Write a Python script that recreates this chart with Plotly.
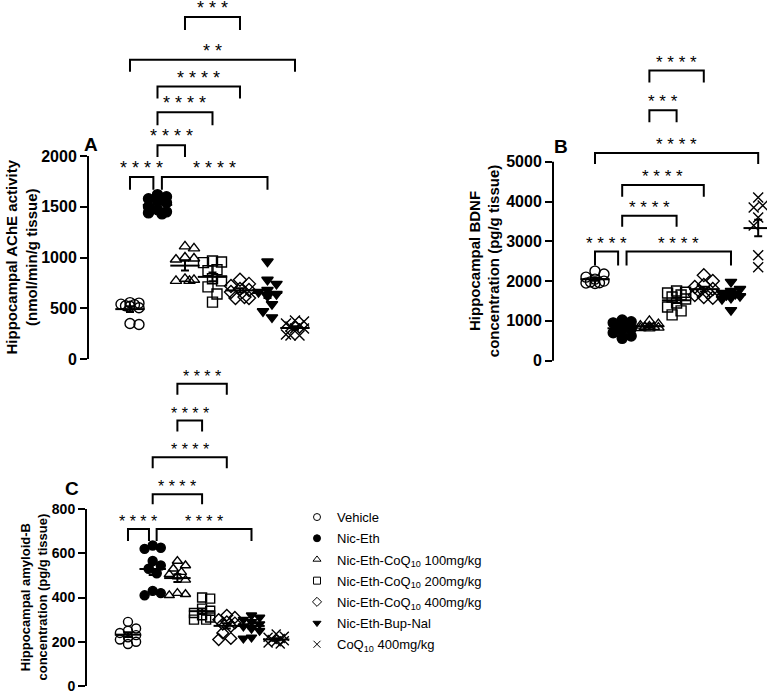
import numpy as np
import plotly.graph_objects as go

W, H = 767, 697
FONT = "Arial, Liberation Sans, Helvetica, sans-serif"

# ---------------- data ----------------
group_labels = [
    "Vehicle",
    "Nic-Eth",
    "Nic-Eth-CoQ<sub>10</sub> 100mg/kg",
    "Nic-Eth-CoQ<sub>10</sub> 200mg/kg",
    "Nic-Eth-CoQ<sub>10</sub> 400mg/kg",
    "Nic-Eth-Bup-Nal",
    "CoQ<sub>10</sub> 400mg/kg",
]

# Panel A: hippocampal AChE activity (nmol/min/g tissue)
ache_vehicle = [555, 550, 540, 535, 525, 520, 505, 350, 340]
ache_niceth = [1620, 1600, 1580, 1560, 1540, 1500, 1470, 1450, 1440, 1430]
ache_coq100 = [1110, 1090, 1000, 990, 980, 790, 780, 770, 770]
ache_coq200 = [965, 955, 950, 880, 870, 790, 770, 710, 640, 560]
ache_coq400 = [780, 740, 720, 690, 680, 660, 610, 600, 600]
ache_bupnal = [960, 780, 740, 680, 660, 640, 620, 540, 470, 410]
ache_coq_only = [380, 370, 350, 330, 320, 300, 300, 240, 230, 230]

# Panel B: hippocampal BDNF (pg/g tissue)
bdnf_vehicle = [2250, 2180, 2100, 2050, 2000, 1980, 1960, 1950, 1940]
bdnf_niceth = [1020, 980, 950, 900, 850, 800, 760, 700, 620, 560]
bdnf_coq100 = [1000, 920, 880, 860, 850, 840, 830, 820, 810]
bdnf_coq200 = [1750, 1720, 1700, 1650, 1600, 1550, 1450, 1350, 1250, 1150]
bdnf_coq400 = [2150, 2000, 1900, 1850, 1800, 1750, 1700, 1650, 1600, 1580]
bdnf_bupnal = [1980, 1800, 1750, 1700, 1680, 1650, 1620, 1580, 1550, 1270]
bdnf_coq_only = [4100, 3900, 3850, 3700, 3600, 3450, 3400, 2650, 2350, 2330]

# Panel C: hippocampal amyloid-B (pg/g tissue)
amyl_vehicle = [290, 260, 250, 240, 230, 220, 210, 200, 190]
amyl_niceth = [635, 625, 620, 565, 545, 530, 510, 430, 420, 410]
amyl_coq100 = [565, 545, 530, 515, 505, 495, 480, 420, 415, 410]
amyl_coq200 = [400, 395, 350, 340, 330, 320, 310, 300, 300]
amyl_coq400 = [320, 310, 300, 290, 285, 280, 270, 240, 215, 210]
amyl_bupnal = [320, 310, 300, 290, 280, 270, 260, 250, 220, 215]
amyl_coq_only = [235, 225, 220, 215, 210, 205, 200, 195, 190]

ache_ticks = [0, 500, 1000, 1500, 2000]
bdnf_ticks = [0, 1000, 2000, 3000, 4000, 5000]
amyl_ticks = [0, 200, 400, 600, 800]

# significance comparisons: (left group, right group, bar level, leg end, label)
ache_sig = [(2, 4, 3371, 3244, "* * *"), (0, 6, 2950, 2832, "* *"),
            (1, 4, 2685, 2568, "* * * *"), (1, 3, 2431, 2304, "* * * *"),
            (1, 2, 2108, 1990, "* * * *"), (0, 1, 1794, 1667, "* * * *"),
            (1, 5, 1794, 1667, "* * * *")]
bdnf_sig = [(2, 4, 7293, 6993, "* * * *"), (2, 3, 6293, 5993, "* * *"),
            (0, 6, 5218, 4943, "* * * *"), (1, 4, 4418, 4118, "* * * *"),
            (1, 3, 3643, 3368, "* * * *"), (0, 1, 2743, 2393, "* * * *"),
            (1, 5, 2743, 2393, "* * * *")]
amyl_sig = [(2, 4, 1366, 1317, "* * * *"), (2, 3, 1200, 1151, "* * * *"),
            (1, 4, 1034, 984, "* * * *"), (1, 3, 867, 822, "* * * *"),
            (0, 1, 710, 656, "* * * *"), (1, 5, 710, 656, "* * * *")]

# ---------------- styling / layout ----------------
symbols = ["circle-open", "circle", "triangle-up-open", "square-open",
           "diamond-open", "triangle-down", "x-thin-open"]

panels = [
    dict(name="A", xa="x", ya="y",
         data=[ache_vehicle, ache_niceth, ache_coq100, ache_coq200, ache_coq400, ache_bupnal, ache_coq_only],
         ticks=ache_ticks, sig=ache_sig,
         xdom=[88 / W, 310 / W], ydom=[1 - 366 / H, 1.0],
         xr=[-1.527, 6.546], yr=[-49, 3539], msize=10, tickfs=16, starfs=18,
         title="Hippocampal AChE activity<br>(nmol/min/g tissue)", title_x=22, title_fs=15,
         label_pos=(91, 145)),
    dict(name="B", xa="x2", ya="y2",
         data=[bdnf_vehicle, bdnf_niceth, bdnf_coq100, bdnf_coq200, bdnf_coq400, bdnf_bupnal, bdnf_coq_only],
         ticks=bdnf_ticks, sig=bdnf_sig,
         xdom=[553 / W, 1.0], ydom=[1 - 367 / H, 1 - 50 / H],
         xr=[-1.544, 6.324], yr=[-107, 7818], msize=10, tickfs=16, starfs=17,
         title="Hippocampal BDNF<br>concentration (pg/g tissue)", title_x=484, title_fs=15,
         label_pos=(561, 147)),
    dict(name="C", xa="x3", ya="y3",
         data=[amyl_vehicle, amyl_niceth, amyl_coq100, amyl_coq200, amyl_coq400, amyl_bupnal, amyl_coq_only],
         ticks=amyl_ticks, sig=amyl_sig,
         xdom=[86 / W, 300 / W], ydom=[1 - 695 / H, 1 - 368 / H],
         xr=[-1.700, 6.964], yr=[-22.5, 1447], msize=9, tickfs=14, starfs=16,
         title="Hippocampal amyloid-B<br>concentration (pg/g tissue)", title_x=34, title_fs=13,
         label_pos=(72, 491)),
]


def swarm_offsets(values, px_x, px_y, diam):
    """GraphPad-like scatter: spread coinciding points sideways, allowing overlap."""
    vals = np.asarray(values, float)
    order = np.argsort(-vals)
    placed = []
    offs = np.zeros(len(vals))
    step = diam * 0.45
    cands = [0.0, step, -step, 2 * step, -2 * step]
    thr = diam * 0.9
    for i in order:
        ypx = vals[i] * px_y
        best, best_d = None, -1.0
        for c in cands:
            d = min([np.hypot(c - px, ypx - py) for px, py in placed] or [1e9])
            if d >= thr:
                best = c
                break
            if d > best_d + 1e-6:
                best, best_d = c, d
        placed.append((best, ypx))
        offs[i] = best / px_x
    return offs


fig = go.Figure()
shapes = []
annotations = []

for p in panels:
    px_x = (p["xdom"][1] - p["xdom"][0]) * W / (p["xr"][1] - p["xr"][0])
    px_y = (p["ydom"][1] - p["ydom"][0]) * H / (p["yr"][1] - p["yr"][0])
    for g, vals in enumerate(p["data"]):
        offs = swarm_offsets(vals, px_x, px_y, p["msize"])
        fig.add_trace(go.Scatter(
            x=g + offs, y=vals, mode="markers", xaxis=p["xa"], yaxis=p["ya"],
            showlegend=False, cliponaxis=False, hoverinfo="skip",
            marker=dict(symbol=symbols[g], size=p["msize"], color="black",
                        line=dict(color="black", width=1.4))))
    for g, vals in enumerate(p["data"]):
        v = np.asarray(vals, float)
        mean = v.mean()
        sem = v.std(ddof=1) / np.sqrt(len(v))
        fig.add_trace(go.Scatter(
            x=[g], y=[mean], mode="markers", xaxis=p["xa"], yaxis=p["ya"],
            showlegend=False, cliponaxis=False, hoverinfo="skip",
            marker=dict(symbol="line-ew-open", size=p["msize"] * 2.1,
                        color="black", line=dict(color="black", width=2)),
            error_y=dict(type="data", array=[sem], thickness=2, width=4, color="black")))

    # y axis line from 0 to the top tick
    shapes.append(dict(type="line", xref=p["xa"] + " domain", yref=p["ya"],
                       x0=0, x1=0, y0=0, y1=p["ticks"][-1],
                       line=dict(color="black", width=2)))

    # significance brackets
    for (g1, g2, bar, leg, lab) in p["sig"]:
        dl = 0.0
        dr = 0.0
        same = [s for s in p["sig"] if s[2] == bar]
        if len(same) > 1:
            if g2 == 1:
                dr = -0.15
            if g1 == 1:
                dl = 0.16
        x0, x1 = g1 + dl, g2 + dr
        shapes.append(dict(type="path", xref=p["xa"], yref=p["ya"],
                           path=f"M {x0},{leg} L {x0},{bar} L {x1},{bar} L {x1},{leg}",
                           line=dict(color="black", width=2)))
        annotations.append(dict(x=(x0 + x1) / 2, y=bar, xref=p["xa"], yref=p["ya"],
                                text=lab, showarrow=False, xanchor="center", yanchor="bottom",
                                yshift=-3,
                                font=dict(family=FONT, size=p["starfs"], color="black")))

    # y title
    annotations.append(dict(x=p["title_x"] / W, xref="paper", y=p["ticks"][-1] / 2, yref=p["ya"],
                            text="<b>" + p["title"] + "</b>", textangle=-90, showarrow=False,
                            xanchor="center", yanchor="middle",
                            font=dict(family=FONT, size=p["title_fs"], color="black")))
    # panel letter
    lx, ly = p["label_pos"]
    annotations.append(dict(x=lx / W, y=1 - ly / H, xref="paper", yref="paper",
                            text="<b>" + p["name"] + "</b>", showarrow=False,
                            xanchor="center", yanchor="middle",
                            font=dict(family=FONT, size=19, color="black")))

# legend-only traces
for g, lab in enumerate(group_labels):
    fig.add_trace(go.Scatter(x=[None], y=[None], mode="markers", name=lab,
                             xaxis="x3", yaxis="y3", legendgroup=f"g{g}",
                             marker=dict(symbol=symbols[g], size=7, color="black",
                                         line=dict(color="black", width=1))))

layout = dict(
    width=W, height=H, margin=dict(l=0, r=0, t=0, b=0),
    paper_bgcolor="white", plot_bgcolor="rgba(0,0,0,0)",
    font=dict(family=FONT, color="black"),
    shapes=shapes, annotations=annotations,
    legend=dict(x=297 / W, y=1 - 505 / H, xanchor="left", yanchor="top",
                font=dict(family=FONT, size=13, color="black"),
                bgcolor="rgba(0,0,0,0)", tracegroupgap=1.3),
)
for i, p in enumerate(panels):
    sfx = "" if i == 0 else str(i + 1)
    layout["xaxis" + sfx] = dict(domain=p["xdom"], range=p["xr"], visible=False,
                                 anchor=p["ya"], fixedrange=True)
    layout["yaxis" + sfx] = dict(domain=p["ydom"], range=p["yr"], anchor=p["xa"],
                                 showgrid=False, zeroline=False, showline=False,
                                 ticks="outside", ticklen=7, tickwidth=2, tickcolor="black",
                                 tickvals=p["ticks"], ticktext=[str(t) for t in p["ticks"]],
                                 tickfont=dict(family=FONT, size=p["tickfs"], color="black", weight="bold"),
                                 fixedrange=True)
fig.update_layout(**layout)
fig.write_html("out.html", config={"displayModeBar": False},
               post_script="document.body.style.margin='0';document.body.style.overflow='hidden';")
